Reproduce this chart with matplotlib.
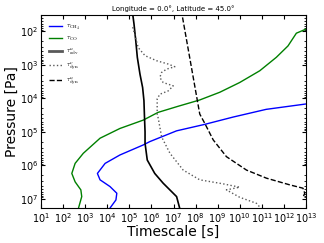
import numpy as np
import matplotlib.pyplot as plt

plt.rcParams['mathtext.fontset'] = 'cm'

# log10 of timescale [s] and log10 of pressure [Pa]
ch4_logt = [13.0, 11.2, 9.7, 8.4, 7.14, 5.93, 5.63, 4.57, 3.9, 3.55, 3.67, 4.12, 4.43, 4.39, 4.09]
ch4_logp = [4.17, 4.33, 4.56, 4.78, 4.97, 5.29, 5.39, 5.69, 5.94, 6.24, 6.43, 6.63, 6.83, 7.03, 7.30]

co_logt = [13.0, 12.57, 12.19, 11.66, 10.91, 10.0, 9.1, 8.19, 7.2, 6.3, 5.63, 4.57, 3.67,
           2.91, 2.54, 2.39, 2.54, 2.8, 2.84, 2.69]
co_logp = [1.94, 2.06, 2.44, 2.78, 3.18, 3.53, 3.82, 4.05, 4.24, 4.42, 4.65, 4.9, 5.19,
           5.64, 5.94, 6.24, 6.49, 6.73, 6.93, 7.28]

adv_logt = [5.15, 5.21, 5.29, 5.36, 5.48, 5.6, 5.66, 5.68, 5.71, 5.71, 5.81, 6.15, 6.53,
            7.14, 7.29]
adv_logp = [1.49, 1.79, 2.29, 2.78, 3.28, 3.68, 4.07, 4.47, 5.0, 5.34, 5.84, 6.24, 6.53,
            6.93, 7.30]

dynv_logt = [5.15, 5.4, 5.71, 6.23, 6.76, 7.06, 6.69, 6.46, 6.38, 6.53, 6.99, 6.76, 6.38,
             6.26, 6.26, 6.31, 6.46, 6.84, 7.44, 8.19, 9.25, 10.0, 9.4, 10.0, 10.76, 10.99]
dynv_logp = [1.88, 2.49, 2.73, 2.88, 2.98, 3.06, 3.13, 3.23, 3.38, 3.53, 3.63, 3.78, 3.88,
             4.02, 4.47, 4.6, 5.15, 5.64, 6.14, 6.43, 6.55, 6.65, 6.73, 6.95, 7.13, 7.30]

dynu_logt = [7.41, 8.19, 8.42, 8.8, 9.4, 10.31, 11.21, 12.27, 12.87, 12.95, 12.87]
dynu_logp = [1.59, 4.47, 4.75, 5.24, 5.74, 6.14, 6.38, 6.58, 6.68, 6.83, 6.95]

fig = plt.figure(figsize=(3.24, 2.43), dpi=100)
ax = fig.add_axes([0.127, 0.144, 0.817, 0.794])

ax.plot(10**np.array(ch4_logt), 10**np.array(ch4_logp), color='b', lw=1.0,
        label=r'$\tau_{\rm CH_4}$')
ax.plot(10**np.array(co_logt), 10**np.array(co_logp), color='g', lw=1.0,
        label=r'$\tau_{\rm CO}$')
ax.plot(10**np.array(adv_logt), 10**np.array(adv_logp), color='k', lw=1.2,
        label=r'$\tau^u_{\rm adv}$')
ax.plot(10**np.array(dynv_logt), 10**np.array(dynv_logp), color='0.35', lw=1.0,
        ls=':', label=r'$\tau^v_{\rm dyn}$')
ax.plot(10**np.array(dynu_logt), 10**np.array(dynu_logp), color='k', lw=1.0,
        ls='--', label=r'$\tau^u_{\rm dyn}$')

ax.set_xscale('log')
ax.set_yscale('log')
ax.set_xlim(1e1, 1e13)
ax.set_ylim(10**7.27, 10**1.52)
ax.set_xticks([10.0**k for k in range(1, 14)])
ax.set_yticks([10.0**k for k in range(2, 8)])
ax.tick_params(which='both', direction='in', top=True, right=True, labelsize=7, pad=2)
ax.tick_params(axis='x', which='minor', bottom=False, top=False)
ax.tick_params(which='major', length=3)
ax.tick_params(which='minor', length=1.5)

ax.set_xlabel('Timescale [s]', fontsize=10, labelpad=0)
ax.set_ylabel('Pressure [Pa]', fontsize=10, labelpad=1)
ax.set_title(u'Longitude = 0.0\u00b0, Latitude = 45.0\u00b0', fontsize=5, pad=3)

leg = ax.legend(loc='upper left', frameon=False, fontsize=5, handlelength=1.9,
                labelspacing=0.45, borderaxespad=0.75, handletextpad=0.5)
leg.get_lines()[2].set_color('0.35')
leg.get_lines()[2].set_linewidth(2.0)

plt.savefig('out.png', dpi=100)
